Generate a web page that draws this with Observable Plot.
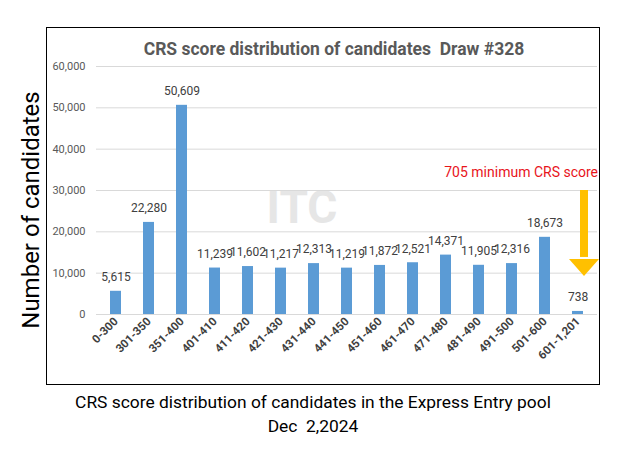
<!DOCTYPE html>
<html>
<head>
<meta charset="utf-8">
<script src="https://cdn.jsdelivr.net/npm/d3@7"></script>
<script src="https://cdn.jsdelivr.net/npm/@observablehq/plot@0.6"></script>
<style>
  body { margin: 0; background: #fff; }
  #wrap { position: relative; width: 630px; height: 450px; overflow: hidden; font-family: Roboto, "Open Sans", sans-serif; }
  #box { position: absolute; left: 46px; top: 27px; width: 554px; height: 358px; border: 1px solid #000; box-sizing: border-box; pointer-events: none; }
  #chart { position: absolute; left: 0; top: 0; }
  #ylab { position: absolute; left: 31px; top: 210px; transform: translate(-50%, -50%) rotate(-90deg); white-space: nowrap; font-size: 24px; color: #000; }
  #cap1 { position: absolute; left: 0; width: 626px; top: 392px; text-align: center; font-size: 17.4px; color: #000; }
  #cap2 { position: absolute; left: 0; width: 626px; top: 416px; text-align: center; font-size: 17.4px; color: #000; }
</style>
</head>
<body>
<div id="wrap">
  <div id="chart"></div>
  <div id="box"></div>
  <div id="ylab">Number of candidates</div>
  <div id="cap1">CRS score distribution of candidates in the Express Entry pool</div>
  <div id="cap2">Dec&nbsp; 2,2024</div>
</div>
<script>
const categories = ["0-300","301-350","351-400","401-410","411-420","421-430","431-440","441-450","451-460","461-470","471-480","481-490","491-500","501-600","601-1,201"];
const counts = [5615, 22280, 50609, 11239, 11602, 11217, 12313, 11219, 11872, 12521, 14371, 11905, 12316, 18673, 738];
const yTicks = [0, 10000, 20000, 30000, 40000, 50000, 60000];
const chartTitle = "CRS score distribution of candidates  Draw #328";
const noteText = "705 minimum CRS score";
const arrowCategory = "601-1,201";
const arrowFrom = 30000;
const arrowShaftEnd = 13800;
const arrowHeadCenter = 11400;
const noteY = 34300;

const data = categories.map((c, i) => ({cat: c, value: counts[i]}));
const fmt = d3.format(",");

const headSymbol = {
  draw(ctx) {
    ctx.moveTo(-15, -8.5);
    ctx.lineTo(15, -8.5);
    ctx.lineTo(0, 8.5);
    ctx.closePath();
  }
};

const plot = Plot.plot({
  width: 630,
  height: 390,
  marginLeft: 96,
  marginRight: 33,
  marginTop: 66,
  marginBottom: 76,
  style: {fontFamily: "Roboto, 'Open Sans', sans-serif", background: "transparent", overflow: "visible"},
  x: {domain: categories, paddingInner: 0.67, paddingOuter: 0.335, label: null, tickSize: 0, tickPadding: 5, tickRotate: -45},
  y: {domain: [0, 60000], ticks: yTicks, tickFormat: fmt, label: null, tickSize: 0, tickPadding: 11, grid: false},
  marks: [
    Plot.text(["ITC"], {frameAnchor: "middle", dx: -45, dy: 18, fontSize: 46, fontWeight: "bold", fill: "#e6e6e6"}),
    Plot.gridY(yTicks, {stroke: "#d9d9d9", strokeOpacity: 1}),
    Plot.barY(data, {x: "cat", y: "value", fill: "#5B9BD5"}),
    Plot.text(data, {x: "cat", y: "value", text: d => fmt(d.value), dy: -14, fontSize: 12, fill: "#404040"}),
    Plot.axisY({ticks: yTicks, tickFormat: fmt, tickSize: 0, tickPadding: 11, fontSize: 11, fill: "#595959", label: null}),
    Plot.axisX({tickSize: 0, tickPadding: 5, tickRotate: -45, fontSize: 11.5, fontWeight: "bold", fill: "#404040", label: null}),
    Plot.text([chartTitle], {frameAnchor: "top", dy: -24, dx: -13, fontSize: 17.5, fontWeight: "bold", fill: "#595959"}),
    Plot.text([noteText], {x: () => arrowCategory, y: () => noteY, textAnchor: "end", dx: 20, fontSize: 14, fill: "#E8141B"}),
    Plot.ruleX([arrowCategory], {x: d => d, y1: arrowFrom, y2: arrowShaftEnd, dx: 6, stroke: "#FFC000", strokeWidth: 8}),
    Plot.dot([arrowCategory], {x: d => d, y: () => arrowHeadCenter, dx: 6, symbol: headSymbol, r: 10, fill: "#FFC000", stroke: "none"})
  ]
});
document.getElementById("chart").appendChild(plot);
</script>
</body>
</html>
